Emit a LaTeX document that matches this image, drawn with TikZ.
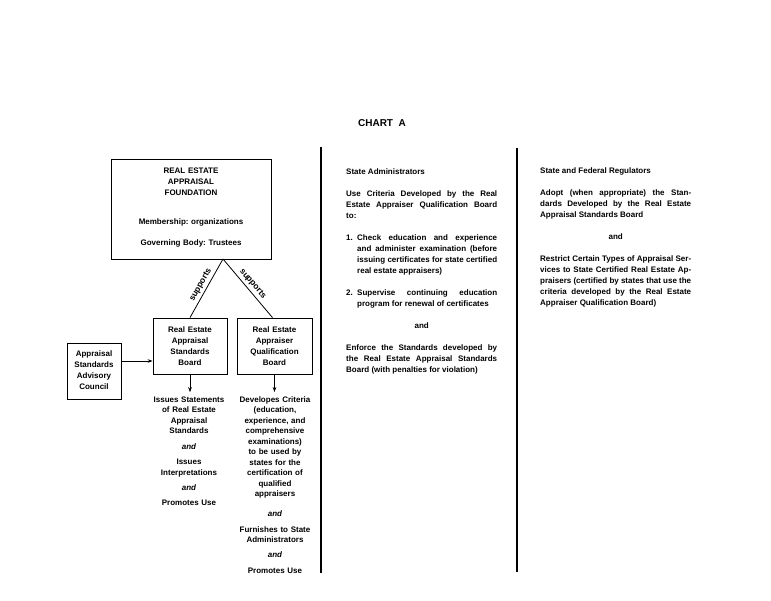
\documentclass[tikz,border=0pt]{standalone}
\usepackage{fontspec}
\setmainfont{Liberation Sans}
\usetikzlibrary{arrows.meta}
\frenchspacing
\newcommand\colfont{\fontsize{8}{11}\selectfont\bfseries\frenchspacing}
\newcommand\descfont{\fontsize{8}{10.5}\selectfont\bfseries\frenchspacing}
\newcommand\gapp{\par\vspace{11pt}}
\begin{document}
\begin{tikzpicture}[x=1pt,y=-1pt,
  every node/.style={font=\colfont, inner sep=0pt},
  box/.style={draw, line width=0.8pt, rectangle},
  btext/.style={anchor=base, align=center},
  arr/.style={-{Stealth[length=5pt,width=3.6pt]}, line width=0.7pt},
  divider/.style={line width=1.3pt},
  link/.style={line width=0.8pt},
  lbl/.style={sloped, above=2.5pt, font=\fontsize{8.5}{10}\selectfont\bfseries}]
\useasboundingbox (0,0) rectangle (771,600);

\node[font=\fontsize{10}{12}\selectfont\bfseries, anchor=base] (title) at (382,126) {CHART\ \ A};

% boxes
\node[box, minimum width=160, minimum height=100] (found) at (191,209) {};
\node[box, minimum width=74, minimum height=56] (asb) at (190,346) {};
\node[box, minimum width=75, minimum height=56] (aqb) at (274.5,346) {};
\node[box, minimum width=54, minimum height=56] (council) at (94,371) {};

% box texts
\node[btext, text width=150] (foundtext) at (191,173)
  {REAL ESTATE\\APPRAISAL\\FOUNDATION\\[18pt]Membership: organizations\\[10pt]Governing Body: Trustees};
\node[btext, text width=72] (asbtext) at (190,332)
  {Real Estate\\Appraisal\\Standards\\Board};
\node[btext, text width=72] (aqbtext) at (274.5,332)
  {Real Estate\\Appraiser\\Qualification\\Board};
\node[btext, text width=52] (counciltext) at (94,356)
  {Appraisal\\Standards\\Advisory\\Council};

% descriptions under boards
\node[btext, text width=82, font=\descfont] (asbdesc) at (189,402)
  {Issues Statements\\of Real Estate\\Appraisal\\Standards\\[5pt]\textit{and}\\[5pt]Issues\\Interpretations\\[5pt]\textit{and}\\[4pt]Promotes Use};
\node[btext, text width=82, font=\descfont] (aqbdesc) at (275,402)
  {Developes Criteria\\(education,\\experience, and\\comprehensive\\examinations)\\to be used by\\states for the\\certification of\\qualified\\appraisers\\[9pt]\textit{and}\\[5.5pt]Furnishes to State\\Administrators\\[4.5pt]\textit{and}\\[5.5pt]Promotes Use};

% connectors
\coordinate (apex) at (223,259);
\draw[link] (apex) -- node[lbl] {supports} (asb.north);
\draw[link] (apex) -- node[lbl] {supports} ([xshift=-2pt]aqb.north);
\draw[arr] (council.east |- 0,361) -- (asb.west |- 0,361);
\draw[arr] (asb.south) -- ([yshift=4pt]asb.south |- asbdesc.north);
\draw[arr] (aqb.south) -- ([yshift=4pt]aqb.south |- aqbdesc.north);

% dividers
\draw[divider] (321,147) -- (321,573);
\draw[divider] (517,148) -- (517,572);

% middle column
\node[anchor=base west, text width=151, align=justify] (statecol) at (346,174) {\colfont
State Administrators\gapp
Use Criteria Developed by the Real \linebreak Estate Appraiser Qualification Board \linebreak to:\gapp
\hangindent=11pt\hangafter=1 \makebox[11pt][l]{1.}Check education and experience \linebreak and administer examination (before \linebreak issuing certificates for state certified \linebreak real estate appraisers)\gapp
\hangindent=11pt\hangafter=1 \makebox[11pt][l]{2.}Supervise continuing education \linebreak program for renewal of certificates\gapp
{\centering and\par}\vspace{11pt}
Enforce the Standards developed by \linebreak the Real Estate Appraisal Standards \linebreak Board (with penalties for violation)\par};

% right column
\node[anchor=base west, text width=151, align=justify] (regcol) at (540,173) {\colfont
State and Federal Regulators\gapp
Adopt (when appropriate) the Stan-\linebreak dards Developed by the Real Estate \linebreak Appraisal Standards Board\gapp
{\centering and\par}\vspace{11pt}
Restrict Certain Types of Appraisal Ser-\linebreak vices to State Certified Real Estate Ap-\linebreak praisers (certified by states that use the \linebreak criteria developed by the Real Estate \linebreak Appraiser Qualification Board)\par};
\end{tikzpicture}
\end{document}
